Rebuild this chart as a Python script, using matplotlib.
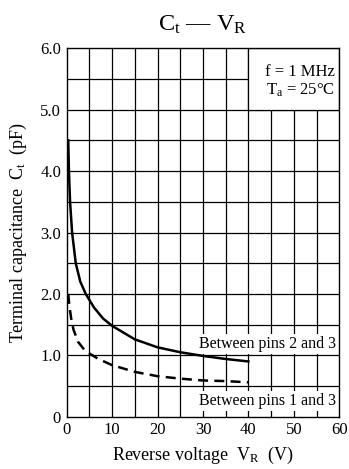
import matplotlib
matplotlib.use("Agg")
import matplotlib.pyplot as plt
from matplotlib.patches import Rectangle

# Terminal capacitance vs reverse voltage
vr_23 = [0.35, 0.5, 0.75, 1.2, 2.0, 3.0, 4.2, 6.0, 8.0, 10, 15, 20, 25, 30, 35, 40]
ct_23 = [4.5, 4.0, 3.5, 3.0, 2.5, 2.2, 2.0, 1.78, 1.6, 1.48, 1.26, 1.13, 1.05, 0.99, 0.94, 0.90]
vr_13 = [0.35, 0.6, 1.0, 1.5, 2.5, 4.0, 5.0, 7.0, 10, 15, 20, 25, 30, 35, 40]
ct_13 = [2.0, 1.8, 1.6, 1.42, 1.22, 1.08, 1.03, 0.94, 0.84, 0.73, 0.66, 0.62, 0.59, 0.58, 0.56]

xticks = [0, 10, 20, 30, 40, 50, 60]
yticks = [0, 1.0, 2.0, 3.0, 4.0, 5.0, 6.0]
yticklabels = ["0", "1.0", "2.0", "3.0", "4.0", "5.0", "6.0"]

plt.rcParams['font.family'] = ['Liberation Serif', 'DejaVu Serif']
plt.rcParams['mathtext.fontset'] = 'custom'
plt.rcParams['mathtext.rm'] = 'Liberation Serif'
plt.rcParams['mathtext.it'] = 'Liberation Serif:italic'

fig = plt.figure(figsize=(3.49, 4.69), dpi=100)
ax = fig.add_axes([0.191, 0.1115, 0.781, 0.7855])

# grid every 5 V and every 0.5 pF
for gx in range(5, 60, 5):
    ax.axvline(gx, color='black', lw=0.9, zorder=1)
for gy in [0.5, 1.0, 1.5, 2.0, 2.5, 3.0, 3.5, 4.0, 4.5, 5.0, 5.5]:
    ax.axhline(gy, color='black', lw=0.9, zorder=1)

# condition box in the upper right
ax.add_patch(Rectangle((40, 5.0), 20, 1.0, facecolor='white', edgecolor='black',
                       lw=0.9, zorder=2))
ax.text(59, 5.61, "f = 1 MHz", ha='right', va='center', fontsize=12, zorder=3)
ax.text(59, 5.31, "T$_\\mathrm{a}$ = 25°C", ha='right', va='center', fontsize=12, zorder=3)

ax.plot(vr_23, ct_23, color='black', lw=1.8, zorder=4)
ax.plot(vr_13, ct_13, color='black', lw=1.8, ls=(0, (4, 2.5)), zorder=4)

ax.text(59.3, 1.19, "Between pins 2 and 3", ha='right', va='center', fontsize=11.5,
        zorder=3, bbox=dict(facecolor='white', edgecolor='none', pad=1.5))
ax.text(59.3, 0.26, "Between pins 1 and 3", ha='right', va='center', fontsize=11.5,
        zorder=3, bbox=dict(facecolor='white', edgecolor='none', pad=1.5))

ax.set_xlim(0, 60)
ax.set_ylim(0, 6.0)
ax.set_xticks(xticks)
ax.set_yticks(yticks)
ax.set_yticklabels(yticklabels)
ax.tick_params(length=0, labelsize=12, pad=4)
for s in ax.spines.values():
    s.set_linewidth(1.0)
    s.set_zorder(5)

ax.set_xlabel("Reverse voltage  V$_\\mathrm{R}$  (V)", fontsize=13, labelpad=5)
ax.set_ylabel("Terminal capacitance  C$_\\mathrm{t}$  (pF)", fontsize=13, labelpad=8)
ax.set_title("C$_\\mathrm{t}$ — V$_\\mathrm{R}$", fontsize=17.5, pad=13)

fig.savefig("out.png", dpi=100)
